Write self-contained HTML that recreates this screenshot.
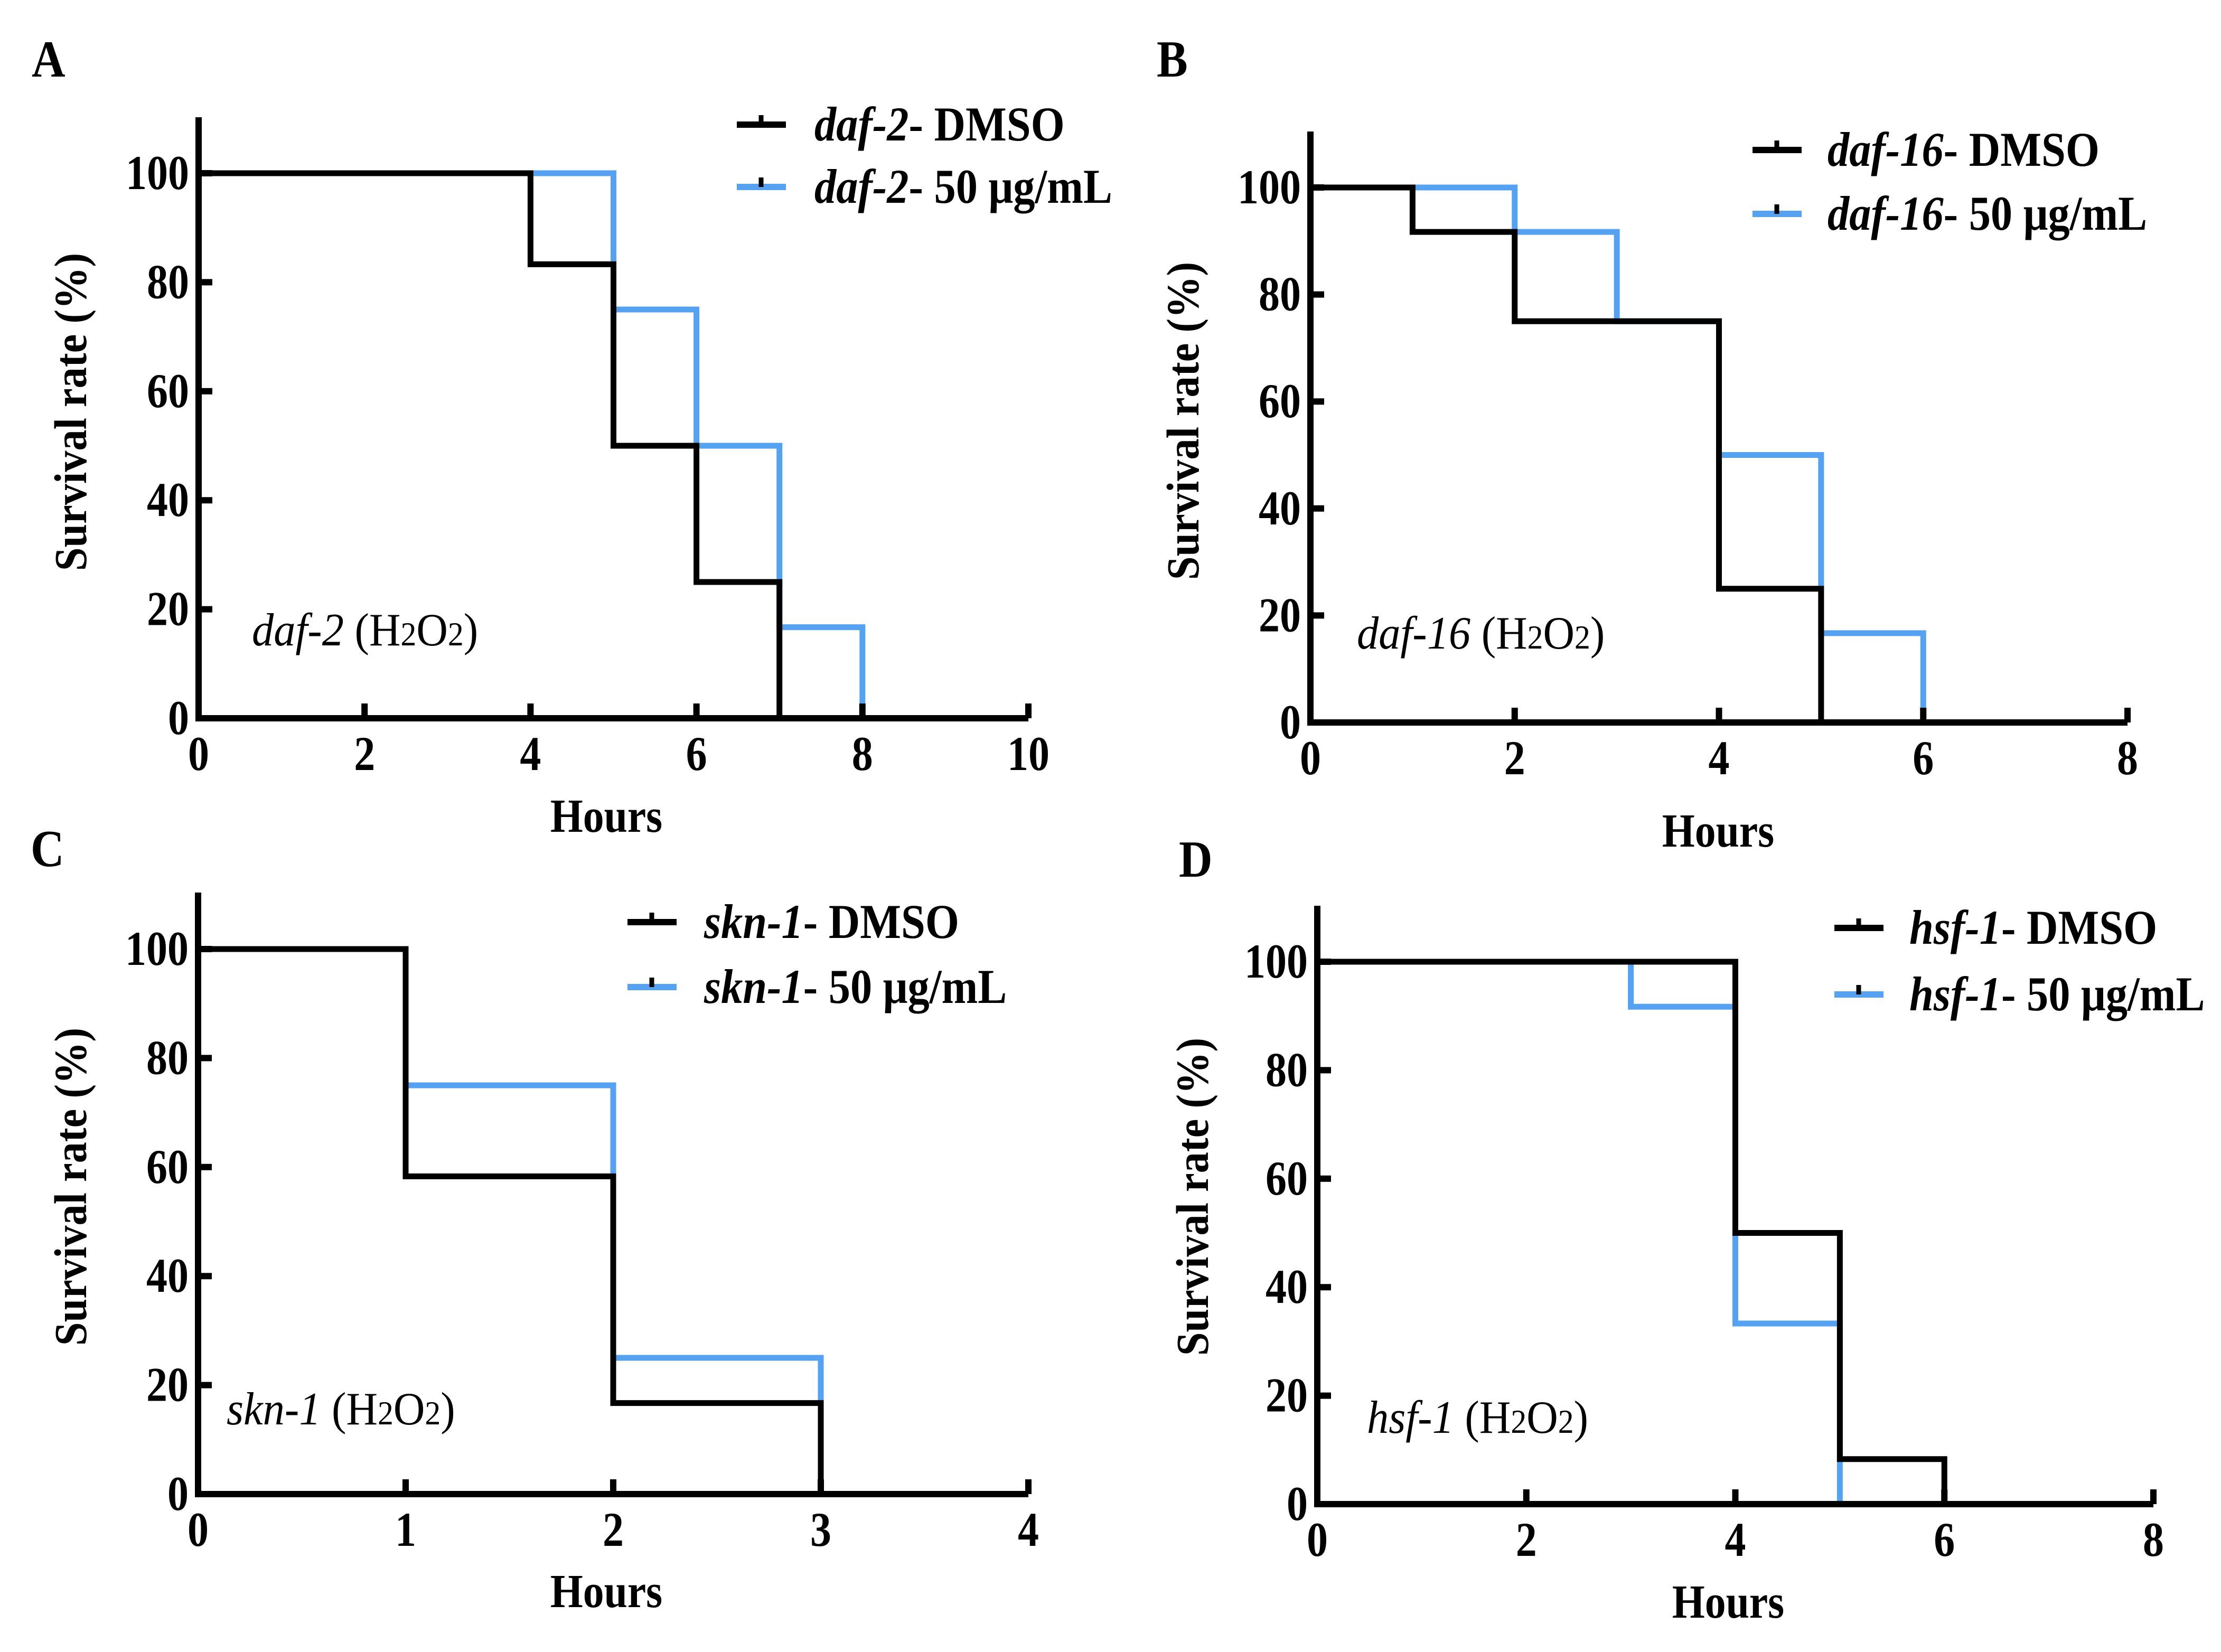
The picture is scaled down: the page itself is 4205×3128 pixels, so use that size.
<!DOCTYPE html>
<html><head><meta charset="utf-8">
<style>
html,body{margin:0;padding:0;background:#fff;}
svg{display:block;}
text{font-family:"Liberation Serif",serif;fill:#000;}
</style></head>
<body>
<svg id="fig" width="4205" height="3128" viewBox="0 0 4205 3128" xmlns="http://www.w3.org/2000/svg">
<rect width="4205" height="3128" fill="#fff"/>
</svg>
<script>
// ---- data ----
const panelIds = ["A","B","C","D"];
const geneNames = ["daf-2","daf-16","skn-1","hsf-1"];
const xMaxes = [10, 8, 4, 8];
const xTickLabelsA = [0,2,4,6,8,10];
const xTickLabelsB = [0,2,4,6,8];
const xTickLabelsC = [0,1,2,3,4];
const xTickLabelsD = [0,2,4,6,8];
const yTickLabels = [0,20,40,60,80,100];
// step survival curves: times and survival values (value holds until next time)
const dmsoTimesA = [0,4,5,6,7];       const dmsoValsA = [100,83.3,50,25,0];
const drugTimesA = [0,5,6,7,8];       const drugValsA = [100,75,50,16.7,0];
const dmsoTimesB = [0,1,2,4,5];       const dmsoValsB = [100,91.7,75,25,0];
const drugTimesB = [0,2,3,4,5,6];     const drugValsB = [100,91.7,75,50,16.7,0];
const dmsoTimesC = [0,1,2,3];         const dmsoValsC = [100,58.3,16.7,0];
const drugTimesC = [0,1,2,3];         const drugValsC = [100,75,25,0];
const dmsoTimesD = [0,4,5,6];         const dmsoValsD = [100,50,8.3,0];
const drugTimesD = [0,3,4,5];         const drugValsD = [100,91.7,33.3,0];

// ---- layout ----
const layouts = [
 {x0:376,x1:1947,y0:1360,y100:328,top:222,ytx:134,yty:780,hx:1148,hy:1575,lx:60,ly:145,legY:[236,354],legX:1395,legT:1542,inX:477,inY:1222},
 {x0:2481,x1:4028,y0:1368,y100:355,top:249,ytx:2240,yty:797,hx:3253,hy:1603,lx:2190,ly:145,legY:[284,405],legX:3318,legT:3460,inX:2569,inY:1228},
 {x0:375,x1:1947,y0:2829,y100:1797,top:1690,ytx:134,yty:2247,hx:1148,hy:3043,lx:58,ly:1640,legY:[1746,1869],legX:1188,legT:1333,inX:429,inY:2697},
 {x0:2494,x1:4077,y0:2848,y100:1821,top:1715,ytx:2258,yty:2266,hx:3272,hy:3063,lx:2232,ly:1660,legY:[1757,1883],legX:3473,legT:3615,inX:2588,inY:2713}
];
const xTicksAll=[xTickLabelsA,xTickLabelsB,xTickLabelsC,xTickLabelsD];
const dmsoT=[dmsoTimesA,dmsoTimesB,dmsoTimesC,dmsoTimesD], dmsoV=[dmsoValsA,dmsoValsB,dmsoValsC,dmsoValsD];
const drugT=[drugTimesA,drugTimesB,drugTimesC,drugTimesD], drugV=[drugValsA,drugValsB,drugValsC,drugValsD];
const NS="http://www.w3.org/2000/svg";
const svg=document.getElementById("fig");
const BLUE="#55a2f3";
function mk(tag,attrs,parent){const e=document.createElementNS(NS,tag);for(const k in attrs)e.setAttribute(k,attrs[k]);(parent||svg).appendChild(e);return e;}
// text with vertical stretch (reference glyphs are taller / condensed)
function stretchText(x,y,attrs,parent,sxs,sys){
  const t=mk("text",Object.assign({x:0,y:0,transform:`translate(${x},${y}) scale(${sxs},${sys})`},attrs),parent);
  return t;
}

panelIds.forEach((pid,i)=>{
  const L=layouts[i];
  const g=mk("g",{});
  
  
  const sx=v=>L.x0+(L.x1-L.x0)*v/xMaxes[i];
  const sy=v=>L.y0-(L.y0-L.y100)*v/100;
  const lt=stretchText(L.lx,L.ly,{"font-size":88,"font-weight":"bold"},g,1,1.12);lt.textContent=pid;
  
  
  function curve(T,V,color,name){
    let d="M"+sx(T[0])+","+sy(V[0]);
    for(let k=1;k<T.length;k++){d+=" H"+sx(T[k])+" V"+sy(V[k]);}
    const p=mk("path",{d:d,fill:"none",stroke:color,"stroke-width":11,"stroke-linejoin":"miter","stroke-linecap":"square"},g);
    
    
  }
  curve(drugT[i],drugV[i],BLUE,'curve-50ugml');
  curve(dmsoT[i],dmsoV[i],"#000",'curve-dmso');
  const ax=mk("path",{d:`M${L.x0},${L.top} V${L.y0} H${L.x1}`,fill:"none",stroke:"#000","stroke-width":12},g);
  
  
  yTickLabels.forEach(v=>{
    if(v>0){const t=mk("line",{x1:L.x0,x2:L.x0+26,y1:sy(v),y2:sy(v),stroke:"#000","stroke-width":12},g);
      
      }
    const tx=stretchText(L.x0-18,sy(v)+30,{"font-size":80,"font-weight":"bold","text-anchor":"end"},g,1,1.15);
    tx.textContent=v;
    
    
  });
  xTicksAll[i].forEach(v=>{
    if(v>0){const t=mk("line",{x1:sx(v),x2:sx(v),y1:L.y0,y2:L.y0-28,stroke:"#000","stroke-width":12},g);
      
      }
    const tx=stretchText(sx(v),L.y0+98,{"font-size":80,"font-weight":"bold","text-anchor":"middle"},g,1,1.15);
    tx.textContent=v;
    
    
  });
  const yt=mk("text",{x:0,y:0,"font-size":78,"font-weight":"bold","text-anchor":"middle",transform:`translate(${L.ytx+29},${L.yty}) rotate(-90) scale(1.03,1.12)`},g);
  yt.textContent="Survival rate (%)";
  
  
  const xt=stretchText(L.hx,L.hy,{"font-size":78,"font-weight":"bold","text-anchor":"middle"},g,1.02,1.15);
  xt.textContent="Hours";
  
  
  const il=stretchText(L.inX,L.inY,{"font-size":80},g,1.03,1.1);
  il.innerHTML=`<tspan font-style="italic">${geneNames[i]}</tspan> (H<tspan font-size="58">2</tspan>O<tspan font-size="58">2</tspan>)`;
  
  
  const labels=["- DMSO","- 50 μg/mL"], cols=["#000",BLUE];
  labels.forEach((lab,k)=>{
    const ly=L.legY[k];
    const le=mk("g",{},g);
    
    
    mk("line",{x1:L.legX,x2:L.legX+93,y1:ly,y2:ly,stroke:cols[k],"stroke-width":12},le);
    mk("line",{x1:L.legX+46,x2:L.legX+46,y1:ly-18,y2:ly,stroke:"#000","stroke-width":9},le);
    const t=stretchText(L.legT,ly+30,{"font-size":80,"font-weight":"bold"},le,1.03,1.15);
    t.innerHTML=`<tspan font-style="italic">${geneNames[i]}</tspan>${lab}`;
  });
});
</script>
</body></html>
